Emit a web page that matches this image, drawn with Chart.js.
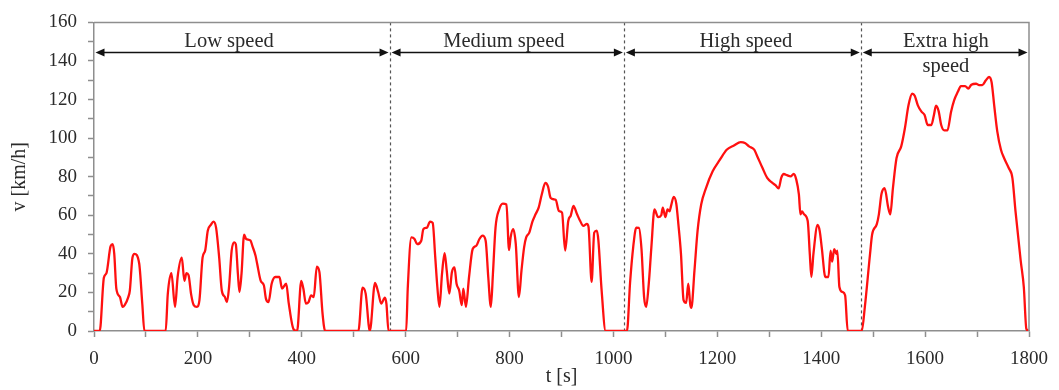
<!DOCTYPE html>
<html>
<head>
<meta charset="utf-8">
<script src="https://cdn.jsdelivr.net/npm/chart.js@4"></script>
<style>
  html, body { margin: 0; padding: 0; background: #fff; }
</style>
</head>
<body>
<canvas id="myChart" width="1059" height="390"></canvas>
<script>
// speed trace, one pair of arrays per phase (t in s, v in km/h)
const lowT = [0, 11, 19, 24, 32, 36, 39, 43, 50, 55, 59, 66, 69, 74, 78, 87, 93, 97, 138, 142, 149, 156, 161, 169, 174, 178, 182, 187, 192, 198, 203, 209, 214, 219, 225, 230, 235, 241, 246, 252, 256, 260, 265, 270, 273, 277, 280, 284, 289, 293, 301, 305, 311, 314, 321, 327, 331, 336, 342, 349, 357, 362, 370, 375, 384, 391, 399, 403, 408, 413, 418, 423, 429, 434, 440, 445, 509, 517, 523, 531, 541, 547, 553, 560, 563, 567];
const lowV = [0, 0, 27.6, 30, 44, 45, 40, 22, 17.6, 12.5, 13.4, 17.6, 21, 38, 40, 35, 14, 0, 0, 19, 30, 12.5, 28, 38, 26, 30, 29, 19, 13.4, 12.5, 16, 38, 41.7, 52, 55, 56.7, 53.6, 38, 21, 17.6, 15, 22.8, 41.7, 46, 45, 29.7, 20.2, 29.7, 50, 47.7, 47, 44, 39, 35, 26, 23.7, 16.8, 15, 24.5, 28, 28, 22, 24.5, 14.2, 1, 0, 26, 22, 14.2, 15, 18.5, 17.6, 33.4, 30.5, 9, 0, 0, 22.5, 19.4, 0, 24.9, 20.2, 14.2, 17.3, 14, 0];

const mediumT = [598, 601, 604, 611, 617, 622, 630, 634, 641, 647, 652, 657, 661, 665, 670, 675, 679, 684, 689, 694, 698, 703, 708, 711, 716, 722, 729, 736, 742, 748, 754, 759, 764, 768, 773, 780, 787, 794, 799, 802, 807, 812, 818, 823, 828, 832, 838, 844, 850, 856, 862, 869, 874, 879, 885, 889, 895, 901, 907, 913, 918, 923, 930, 936, 942, 949, 952, 958, 963, 968, 971, 977, 985];
const mediumV = [0, 0, 22, 48.5, 47.7, 45, 46.8, 52.8, 53.6, 56.7, 56, 38, 22.8, 12.5, 29.7, 40.3, 31.4, 19.4, 30.5, 33, 24.5, 21, 13.4, 22, 12.5, 28, 42.5, 44.2, 47.7, 49.4, 46.8, 28, 12.5, 29.7, 53.6, 63, 66, 65.6, 42, 48.5, 52.8, 45, 17.6, 31.4, 43.4, 48.5, 51, 56.7, 60.5, 64, 70.8, 76.8, 75, 69, 68.3, 68, 62.2, 61.4, 41.7, 57, 60, 64.8, 60.5, 57, 54.5, 55.5, 54, 25.5, 51, 52, 47, 22, 0];

const highT = [1026, 1032, 1038, 1044, 1049, 1054, 1059, 1063, 1068, 1073, 1079, 1086, 1092, 1095, 1100, 1104, 1108, 1111, 1116, 1121, 1125, 1130, 1135, 1140, 1144, 1148, 1150, 1156, 1162, 1169, 1178, 1191, 1205, 1218, 1232, 1245, 1253, 1261, 1271, 1277, 1287, 1296, 1306, 1312, 1318, 1323, 1328, 1334, 1341, 1347, 1352, 1357, 1360, 1363, 1367, 1374, 1378, 1381, 1385, 1393, 1397, 1401, 1408, 1414, 1418, 1421, 1425, 1429, 1431, 1435, 1441, 1446, 1451];
const highV = [0, 25, 43.4, 53.6, 53.5, 42.5, 17.6, 12.5, 24.5, 43.4, 63, 59, 60, 64, 59, 63, 62, 65, 69.5, 66, 55.4, 40, 16, 14.6, 24.5, 13.4, 12, 31.4, 52, 65.7, 74, 82.8, 88.8, 94, 96.2, 97.9, 97.5, 95.7, 94, 90.5, 84.5, 79.4, 76.8, 75.6, 73.9, 79.4, 81.4, 80.8, 80.2, 81.4, 78.5, 70.8, 60.5, 62, 60.5, 57, 40, 28, 40, 55, 52, 43.4, 28, 28, 41.7, 36, 42.5, 40, 41.7, 22.8, 20.2, 18.5, 0];

const extraT = [1478, 1484, 1494, 1498, 1507, 1511, 1516, 1522, 1529, 1533, 1538, 1545, 1554, 1561, 1568, 1575, 1580, 1586, 1593, 1599, 1605, 1612, 1617, 1621, 1626, 1631, 1637, 1643, 1650, 1656, 1663, 1669, 1677, 1683, 1689, 1698, 1704, 1710, 1717, 1723, 1728, 1733, 1739, 1746, 1752, 1761, 1768, 1774, 1784, 1790, 1795, 1800];
const extraV = [0, 12.5, 40, 50, 55.4, 60.5, 71, 74, 64, 60.5, 74, 89.7, 95.7, 105, 117, 123, 122, 117, 113.7, 112, 106.8, 106.8, 112, 116.8, 114, 106.8, 104, 104, 113.7, 119.7, 124, 127, 127, 125.7, 127.7, 128.2, 127.5, 127.5, 130, 131.7, 129, 117, 103.4, 94, 89.7, 84.5, 79.4, 62.2, 36.5, 22.8, 1, 0];

// phase boundaries (s) and their labels
const phaseEdges = [0, 570, 1021, 1477, 1800];
const phaseNames = [['Low speed'], ['Medium speed'], ['High speed'], ['Extra high', 'speed']];
const phaseLabelT = [260, 789, 1255, 1640];
const arrowV = 144.5;
const labelV = [147.5, 134.5];

// axis ticks
const xTickStep = 100, xLabelStep = 200;
const yTickStep = 10, yLabelStep = 20;

const allT = lowT.concat(mediumT, highT, extraT);
const allV = lowV.concat(mediumV, highV, extraV);
const points = allT.map((t, i) => ({ x: t, y: allV[i] }));

const serifFamily = '"Liberation Serif", "DejaVu Serif", serif';
const serif = { family: serifFamily, size: 19 };
const labelSize = 20.5;
const inkColor = '#2b2b2b';
const frameColor = '#8e8e8e';

const phasePlugin = {
  id: 'phases',
  beforeDatasetsDraw(chart) {
    const { ctx, chartArea: a, scales: { x } } = chart;
    ctx.save();
    ctx.strokeStyle = '#555';
    ctx.lineWidth = 1.2;
    ctx.setLineDash([3, 3]);
    phaseEdges.slice(1, -1).forEach(t => {
      const px = Math.round(x.getPixelForValue(t)) + 0.5;
      ctx.beginPath();
      ctx.moveTo(px, a.top);
      ctx.lineTo(px, a.bottom);
      ctx.stroke();
    });
    ctx.restore();
  },
  afterDraw(chart) {
    const { ctx, chartArea: a, scales: { x, y } } = chart;
    ctx.save();
    // top and right sides of the frame
    ctx.strokeStyle = frameColor;
    ctx.lineWidth = 1.5;
    ctx.beginPath();
    ctx.moveTo(a.left, a.top);
    ctx.lineTo(a.right, a.top);
    ctx.lineTo(a.right, a.bottom);
    ctx.stroke();

    // double arrows
    const ay = Math.round(y.getPixelForValue(arrowV)) + 0.5;
    ctx.strokeStyle = '#111';
    ctx.fillStyle = '#111';
    ctx.lineWidth = 1.5;
    for (let i = 0; i < phaseEdges.length - 1; i++) {
      const x0 = x.getPixelForValue(phaseEdges[i]) + 1.5;
      const x1 = x.getPixelForValue(phaseEdges[i + 1]) - 1.5;
      ctx.beginPath();
      ctx.moveTo(x0 + 4, ay);
      ctx.lineTo(x1 - 4, ay);
      ctx.stroke();
      ctx.beginPath();
      ctx.moveTo(x0, ay);
      ctx.lineTo(x0 + 9, ay - 4);
      ctx.lineTo(x0 + 9, ay + 4);
      ctx.closePath();
      ctx.fill();
      ctx.beginPath();
      ctx.moveTo(x1, ay);
      ctx.lineTo(x1 - 9, ay - 4);
      ctx.lineTo(x1 - 9, ay + 4);
      ctx.closePath();
      ctx.fill();
    }

    // phase labels
    ctx.font = labelSize + 'px ' + serifFamily;
    ctx.fillStyle = inkColor;
    ctx.textAlign = 'center';
    ctx.textBaseline = 'alphabetic';
    phaseNames.forEach((lines, i) => {
      lines.forEach((txt, j) => {
        ctx.fillText(txt, x.getPixelForValue(phaseLabelT[i]), y.getPixelForValue(labelV[j]));
      });
    });
    ctx.restore();
  }
};

new Chart(document.getElementById('myChart'), {
  type: 'line',
  data: {
    datasets: [{
      data: points,
      borderColor: '#ff1010',
      borderWidth: 2.3,
      pointRadius: 0,
      fill: false,
      cubicInterpolationMode: 'monotone'
    }]
  },
  options: {
    responsive: false,
    animation: false,
    layout: { padding: { top: 20, right: 24, left: 0, bottom: 0 } },
    plugins: { legend: { display: false }, tooltip: { enabled: false } },
    scales: {
      x: {
        type: 'linear',
        min: 0,
        max: 1800,
        afterFit: s => { s.height = 59; },
        ticks: {
          stepSize: xTickStep,
          autoSkip: false,
          maxRotation: 0,
          padding: 11,
          font: serif,
          color: inkColor,
          callback: v => (v % xLabelStep === 0 ? v : '')
        },
        grid: { drawOnChartArea: false, tickLength: 6, tickColor: frameColor, tickWidth: 1.5 },
        border: { color: frameColor, width: 1.5 },
        title: { display: true, text: 't [s]', font: { family: serifFamily, size: 20 }, color: inkColor, padding: { top: 0, bottom: 1 } }
      },
      y: {
        min: 0,
        max: 160,
        afterFit: s => { s.width = 94; },
        ticks: {
          stepSize: yTickStep,
          autoSkip: false,
          padding: 11,
          font: serif,
          color: inkColor,
          callback: v => (v % yLabelStep === 0 ? v : '')
        },
        grid: { drawOnChartArea: false, tickLength: 6, tickColor: frameColor, tickWidth: 1.5 },
        border: { color: frameColor, width: 1.5 },
        title: { display: true, text: 'v [km/h]', font: { family: serifFamily, size: 20 }, color: inkColor, padding: { top: 8, bottom: 0 } }
      }
    }
  },
  plugins: [phasePlugin]
});
</script>
</body>
</html>
